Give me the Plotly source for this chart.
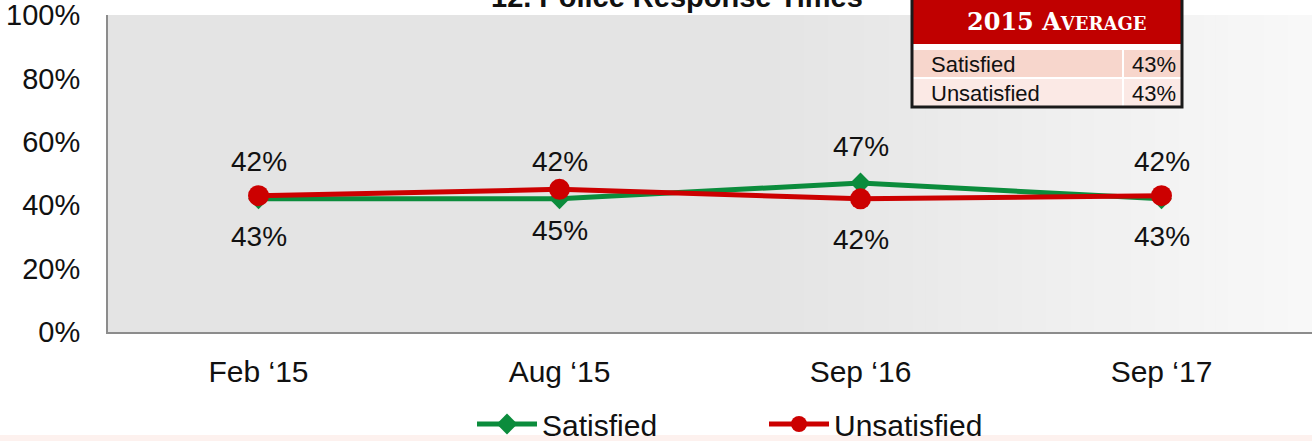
import plotly.graph_objects as go

# ---- data ----
periods = ["Feb \u201815", "Aug \u201815", "Sep \u201816", "Sep \u201817"]
satisfied = [42, 42, 47, 42]
unsatisfied = [43, 45, 42, 43]
y_ticks = [0, 20, 40, 60, 80, 100]
y_tick_labels = ["0%", "20%", "40%", "60%", "80%", "100%"]
avg_labels = ["Satisfied", "Unsatisfied"]
avg_values = ["43%", "43%"]
title_text = "12. Police Response Times"

W, H = 1312, 441
ML, MR, MT, MB = 108, 0, 15, 109
PW = W - ML - MR
PH = H - MT - MB


def px(x):
    return (x - ML) / PW


def py(y):
    return (H - MB - y) / PH


GREEN = "#0b8c3c"
RED = "#cc0000"
FONT = "Liberation Sans, Arial, sans-serif"

fig = go.Figure()
fig.add_trace(go.Scatter(
    x=periods, y=satisfied, name="Satisfied", mode="lines+markers",
    line=dict(color=GREEN, width=5),
    marker=dict(symbol="diamond", size=16, color=GREEN),
))
fig.add_trace(go.Scatter(
    x=periods, y=unsatisfied, name="Unsatisfied", mode="lines+markers",
    line=dict(color=RED, width=5),
    marker=dict(symbol="circle", size=21, color=RED),
))

annotations = []
for p, v in zip(periods, satisfied):
    annotations.append(dict(x=p, y=v, xref="x", yref="y", text=f"{v}%",
                            showarrow=False, yshift=37,
                            font=dict(size=28, color="#111", family=FONT)))
for p, v in zip(periods, unsatisfied):
    annotations.append(dict(x=p, y=v, xref="x", yref="y", text=f"{v}%",
                            showarrow=False, yshift=-41,
                            font=dict(size=28, color="#111", family=FONT)))

# title (partially cut at the top like the original)
annotations.append(dict(x=px(677), y=py(-3), xref="paper", yref="paper",
                        text=f"<b>{title_text}</b>", showarrow=False,
                        xanchor="center", yanchor="middle",
                        font=dict(size=29, color="#111", family=FONT)))

shapes = []
# gradient fade of plot background towards the right
x_start = 780
n = 44
for i in range(n):
    x0 = x_start + (W - x_start) * i / n
    x1 = x_start + (W - x_start) * (i + 1) / n + 1
    t = (i + 0.5) / n
    c = int(229 + (249 - 229) * t)
    shapes.append(dict(type="rect", xref="paper", yref="paper",
                       x0=px(x0), x1=px(x1), y0=0, y1=1, layer="below",
                       fillcolor=f"rgb({c},{c},{c})", line=dict(width=0)))

# faint pink strip at the very bottom
shapes.append(dict(type="rect", xref="paper", yref="paper",
                   x0=px(0), x1=px(W), y0=py(441), y1=py(435),
                   fillcolor="#fdf1ee", line=dict(width=0), layer="below"))

# ---- 2015 average table ----
TL, TR, CD = 912, 1182, 1123
shapes += [
    dict(type="rect", xref="paper", yref="paper", x0=px(TL), x1=px(TR),
         y0=py(106), y1=py(-5), fillcolor="white", line=dict(width=0)),
    dict(type="rect", xref="paper", yref="paper", x0=px(TL), x1=px(TR),
         y0=py(44), y1=py(-5), fillcolor="#c00000", line=dict(width=0)),
    dict(type="rect", xref="paper", yref="paper", x0=px(TL), x1=px(TR),
         y0=py(77), y1=py(50), fillcolor="#f7d6cc", line=dict(width=0)),
    dict(type="rect", xref="paper", yref="paper", x0=px(TL), x1=px(TR),
         y0=py(106), y1=py(79), fillcolor="#fbe9e5", line=dict(width=0)),
    dict(type="line", xref="paper", yref="paper", x0=px(CD), x1=px(CD),
         y0=py(106), y1=py(50), line=dict(color="white", width=2)),
    dict(type="rect", xref="paper", yref="paper", x0=px(TL), x1=px(TR),
         y0=py(107), y1=py(-5), fillcolor="rgba(0,0,0,0)",
         line=dict(color="#1a1a1a", width=3)),
]
annotations.append(dict(
    x=px(1056), y=py(21), xref="paper", yref="paper",
    text="<b>2015 A<span style='font-size:18px'>VERAGE</span></b>",
    showarrow=False, xanchor="center", yanchor="middle",
    font=dict(size=24, color="white", family="DejaVu Serif, serif")))
row_y = [64, 93]
for lab, val, ry in zip(avg_labels, avg_values, row_y):
    annotations.append(dict(x=px(TL + 17), y=py(ry), xref="paper", yref="paper",
                            text=lab, showarrow=False, xanchor="left",
                            yanchor="middle",
                            font=dict(size=22, color="#111", family=FONT)))
    annotations.append(dict(x=px(TR - 4), y=py(ry), xref="paper", yref="paper",
                            text=val, showarrow=False, xanchor="right",
                            yanchor="middle",
                            font=dict(size=22, color="#111", family=FONT)))

fig.update_layout(
    width=W, height=H,
    margin=dict(l=ML, r=MR, t=MT, b=MB, pad=0, autoexpand=False),
    paper_bgcolor="white",
    plot_bgcolor="#e4e4e4",
    font=dict(family=FONT, size=28, color="#111"),
    showlegend=True,
    legend=dict(orientation="h", x=px(472), xanchor="left",
                y=py(424), yanchor="middle",
                font=dict(size=30, color="#111", family=FONT),
                bgcolor="rgba(0,0,0,0)", entrywidth=217, itemwidth=60),
    annotations=annotations,
    shapes=shapes,
)
fig.update_xaxes(
    type="category", range=[-0.5, 3.5], showgrid=False, zeroline=False,
    showline=True, linecolor="#8c8c8c", linewidth=2, ticks="",
    tickfont=dict(size=30, family=FONT, color="#111"),
    ticklabelstandoff=12, automargin=False,
)
fig.update_yaxes(
    range=[0, 100], tickvals=y_ticks, ticktext=y_tick_labels,
    showgrid=False, zeroline=False, showline=True, linecolor="#8c8c8c",
    linewidth=2, ticks="", tickfont=dict(size=29, family=FONT, color="#111"),
    ticklabelstandoff=20, automargin=False, ticklabeloverflow="allow",
)

fig.write_html("out.html",
               config={"displayModeBar": False},
               post_script="document.body.style.margin='0';"
                           "document.body.style.overflow='hidden';")
